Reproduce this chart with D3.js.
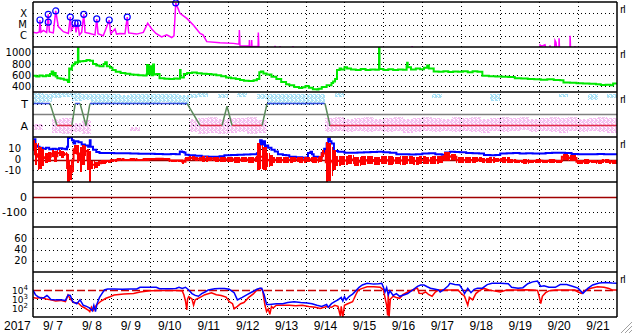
<!DOCTYPE html>
<html>
<head>
<meta charset="utf-8">
<script src="https://cdn.jsdelivr.net/npm/d3@7"></script>
<style>
  html, body { margin: 0; padding: 0; background: #fff; }
  svg { display: block; }
</style>
</head>
<body>
<svg id="chart" width="633" height="334"></svg>
<script>
// hours since 2017-09-07 00:00 UT
const dayLabels = ["9/ 7", "9/ 8", "9/ 9", "9/10", "9/11", "9/12", "9/13", "9/14", "9/15", "9/16", "9/17", "9/18", "9/19", "9/20", "9/21"];
const yearLabel = "2017";

// GOES X-ray flux (W/m2)
const xray = [[0,2.0e-6],[2.3,1.8e-6],[3.9,2.2e-6],[4.3,2.5e-5],[4.9,2.0e-6],[6.4,3.0e-6],[8.4,2.0e-6],[9.4,8.1e-5],[10.1,2.2e-6],[12.5,1.8e-6],[14.0,1.6e-4],[15.6,6.5e-6],[18.7,2.3e-6],[21.8,1.6e-6],[23.0,4.6e-5],[23.6,3.0e-6],[24.9,6.0e-6],[25.9,1.3e-5],[26.5,2.0e-6],[27.6,1.3e-5],[28.6,1.2e-6],[30.0,2.0e-6],[31.3,8.1e-5],[32.1,2.0e-6],[35.1,1.6e-6],[38.2,1.2e-6],[39.3,3.1e-5],[40.1,1.5e-6],[43.3,1.0e-6],[47.0,2.5e-5],[47.9,1.5e-6],[50.6,4.0e-6],[51.5,1.4e-6],[53.6,1.6e-6],[56.7,1.5e-6],[58.1,4.6e-5],[59.0,1.8e-6],[63.9,1.4e-6],[68.0,2.0e-6],[70.7,1.3e-5],[73.2,4.0e-6],[75.8,1.6e-6],[79.3,8.0e-7],[82.4,1.2e-6],[85.5,7.0e-7],[86.9,1.0e-6],[88.0,8.2e-4],[90.6,1.0e-4],[94.8,3.5e-5],[98.8,9.0e-6],[103.0,1.6e-6],[104.8,1.2e-6],[107.1,3.0e-7],[115.3,2.4e-7],[123.5,2.1e-7],[127.0,1.8e-7],[127.2,3.2e-6],[127.6,1.3e-7],[133.3,1.2e-7],[133.4,4.2e-7],[133.6,1.1e-7],[134.7,1.2e-7],[134.8,4.2e-7],[135.0,1.1e-7],[138.8,1.1e-7],[138.9,1.9e-6],[139.2,1.0e-7],[139.5,5e-8],[149.0,5e-8],[149.2,1.3e-7],[149.5,5e-8],[152.0,5e-8],[152.3,1.2e-7],[152.6,5e-8],[160.2,5e-8],[160.3,1.2e-7],[160.5,5e-8],[233.6,5e-8],[233.7,1.2e-7],[233.9,5e-8],[312.4,5e-8],[312.6,1.5e-7],[313.5,1.2e-7],[315.6,1.6e-7],[316.5,5e-8],[318.5,5e-8],[318.7,1.4e-7],[319.0,5e-8],[321.5,5e-8],[321.8,3.7e-7],[322.4,2.5e-7],[323.0,5e-8],[324.2,5e-8],[324.3,6.0e-7],[324.6,5e-8],[331.0,5e-8],[331.1,1.0e-6],[331.4,5e-8],[334.0,5e-8],[334.1,1.2e-7],[334.3,5e-8],[360,5e-8]];
// flare peaks marked with circles
const flares = [[4.3,2.5e-5],[9.4,8.1e-5],[9.4,1.6e-5],[14.0,1.6e-4],[23.0,4.6e-5],[25.9,1.3e-5],[27.6,1.3e-5],[31.3,8.1e-5],[39.3,3.1e-5],[47.0,2.5e-5],[58.1,4.6e-5],[88.0,8.2e-4]];
const xrayTicks = [[1e-4, "X"], [1e-5, "M"], [1e-6, "C"]];

// solar wind speed (km/s)
const speed = [[0,590],[2,575],[4,595],[6,580],[8,600],[9.5,585],[10.5,620],[11.5,665],[12.5,600],[13.6,640],[14,575],[15,545],[17,535],[19,520],[21,510],[21.6,480],[22.3,720],[23,700],[24,770],[25,800],[26,830],[27.4,820],[27.7,1077],[28,840],[29,845],[31,850],[33,870],[35,855],[37,800],[39,770],[41,760],[43.5,800],[44.5,830],[45.5,760],[47.5,730],[49,690],[51,660],[54,640],[57,625],[60,610],[62,605],[65,600],[68,595],[70,610],[70.3,780],[71,620],[72,760],[73,600],[74,790],[74.6,610],[76,620],[78,545],[81,535],[84,530],[87,540],[89,535],[90.6,690],[91,560],[93,620],[95,640],[98,645],[101,635],[104,625],[107,620],[110,610],[113,600],[116,580],[119,560],[122,545],[125,530],[127.6,515],[130,500],[133,495],[136,510],[138,530],[139.5,650],[140.5,665],[142,630],[144,610],[147,570],[150,530],[153,480],[156,440],[158,420],[161,390],[164,370],[166,385],[168,405],[170,375],[172.5,350],[175,345],[176,360],[178,390],[181,420],[184,460],[185,485],[186.2,530],[187.4,690],[189,720],[190,700],[192,740],[193.6,720],[196,700],[199,690],[202,710],[205,690],[208,700],[211,695],[213.1,700],[213.3,1085],[213.6,710],[216,690],[219,705],[222,690],[225,700],[228,695],[230.3,760],[230.6,820],[231,740],[233,700],[236,720],[238.6,705],[241,730],[243,770],[244,720],[247,665],[250,660],[253,670],[256,655],[259,665],[262,660],[265,670],[268,650],[271,670],[274,660],[277,590],[281,580],[285,575],[289,570],[293,565],[297,545],[301,540],[305,530],[309,525],[313,520],[317,525],[321,515],[325,510],[327,470],[331,465],[335,455],[339,450],[343,445],[347,440],[350,425],[353,430],[356,420],[357.6,450],[360,455]];
const speedTicks = [400, 600, 800, 1000];

// IMF sector: 1 = toward, -1 = away
const sector = [[0,1],[10.5,1],[14.8,-1],[24,-1],[26,1],[29,1],[32.7,-1],[35.1,1],[95,1],[103,-1],[116.5,-1],[119.6,0.75],[122.7,-1],[141.2,-1],[144.3,1],[180,1],[183.1,-1],[360,-1]];
const sectorBin = 6;
const imfToward = [[0,1.0,1.95],[6,1.1,1.9],[12,1.5,1.95],[18,1.6,1.95],[24,1.2,1.95],[30,1.3,1.9],[36,0.9,1.9],[42,1.0,1.85],[48,1.0,1.9],[54,0.9,1.8],[60,1.0,1.85],[66,0.9,1.9],[72,1.0,1.9],[78,1.1,1.85],[84,0.95,1.9],[90,0.9,1.8],[96,1.5,1.9],[102,1.6,1.95],[114,1.5,1.9],[126,1.6,1.95],[138,1.4,1.9],[144,0.9,1.9],[150,0.9,1.85],[156,1.0,1.9],[162,0.85,1.9],[168,0.9,1.85],[174,1.0,1.9],[186,1.6,1.95],[246,1.5,1.9],[282,1.2,1.9],[324,1.6,1.9],[342,1.3,1.9],[354,1.5,1.9]];
const imfAway = [[0,-0.9,-1.4],[12,-0.4,-1.7],[18,-0.3,-1.8],[24,-0.8,-1.6],[30,-0.5,-1.8],[60,-1.1,-1.5],[96,-0.4,-1.6],[102,-0.3,-1.8],[108,-0.2,-1.7],[114,-0.4,-1.8],[120,-0.3,-1.7],[126,-0.3,-1.6],[132,-0.2,-1.8],[138,-0.5,-1.7],[180,-0.3,-1.6],[186,-0.2,-1.5],[192,-0.4,-1.6],[198,-0.3,-1.5],[204,-0.2,-1.6],[210,-0.4,-1.5],[216,-0.3,-1.6],[222,-0.2,-1.5],[228,-0.4,-1.7],[234,-0.3,-1.6],[240,-0.2,-1.5],[246,-0.3,-1.6],[252,-0.4,-1.5],[258,-0.2,-1.6],[264,-0.3,-1.5],[270,-0.2,-1.6],[276,-0.4,-1.7],[282,-0.3,-1.5],[288,-0.2,-1.6],[294,-0.3,-1.5],[300,-0.2,-1.4],[306,-0.4,-1.6],[312,-0.3,-1.5],[318,-0.2,-1.6],[324,-0.3,-1.7],[330,-0.2,-1.5],[336,-0.4,-1.6],[342,-0.3,-1.5],[348,-0.2,-1.6],[354,-0.3,-1.7]];
const sectorTicks = [[1, "T"], [-1, "A"]];

// IMF Bt (nT)
const bt = [[0,14],[0.8,19],[1.5,13],[2.5,12],[4,11],[6,10],[8,11],[10,9.5],[12,10],[14,9.5],[16,10.5],[18,10],[20,9.5],[21,12],[21.6,20],[22.5,22],[23.5,21],[24,18],[25,15],[26,17],[28,16],[30,14],[32,13],[34,12],[35,18],[35.5,12],[37,9],[39,7],[41,6],[45,6],[50,5.8],[55,5.9],[60,5.5],[65,5.4],[70,5.3],[75,5.2],[80,5.0],[85,5.1],[88,5.0],[90.5,7.5],[92,7],[93,6.5],[94,4.5],[96,4],[100,3.5],[104,2.8],[108,2.6],[112,2.6],[115,3],[118,4],[122,4.2],[126,4.5],[130,4.6],[134,5],[138,5.8],[139,10],[140,18],[141,14],[142,17],[143,12],[144,13],[145,11],[147,9],[149,7.5],[151,5],[154,4.2],[156,4],[158,2.5],[162,2],[166,1.6],[168,1.8],[169.5,6],[171,7.3],[172,5],[173,2.5],[176,2.4],[178,6],[179.5,10],[181,15],[182,19.5],[183,17],[184,15],[185.5,8],[188,7.3],[192,6.4],[196,6.2],[200,6.6],[204,6.8],[208,7],[212,7.2],[216,6.8],[220,6.2],[224,5],[228,4.8],[232,4.6],[236,4.8],[240,5.5],[244,5.8],[248,5],[252,4.5],[254,6.5],[257,7.2],[260,7],[263,6.8],[267,6],[271,5.8],[275,5.6],[278,4.3],[282,4],[285,4.2],[288,5.5],[292,5.8],[296,6],[300,5.6],[304,5.8],[308,5.5],[312,5.7],[316,6],[320,6.2],[324,6.4],[328,6.1],[332,5.2],[336,5],[340,4.8],[344,5],[348,5.2],[352,4.8],[356,5],[360,5.1]];
// IMF Bz range per interval (nT): [hour, low, high]
const bz = [[0,8,18],[1.2,-5,15],[2.5,-10,15],[4,-9,12],[5.5,-6,10],[7,-3,6],[9,-2,7],[11,2,9],[13,-2,8],[15,3,9],[17,1,8],[19,3,7],[21,-21,5],[22,-21,0],[23,-19,-5],[24,-12,10],[25,5,14],[27,-3,14],[28.5,-12,12],[30,-5,14],[32,3,13],[33.5,-10,10],[34.5,-21,8],[36,-9,-1],[38,-8,-2],[40,-6,-1],[42,-4,0],[45,-3,0],[48,-2,0.5],[52,-1,1],[56,-1.5,0.5],[60,-1,1],[64,-1.5,0.5],[68,-1,1],[72,-0.5,1.5],[76,0,1.5],[80,-0.5,1.5],[84,-2,0],[88,-2,0],[92,-4,0],[94,-1,2],[96,0,3],[100,-1,2.5],[104,-2,3],[108,-1,2.5],[112,-2,2.5],[116,-2,2.5],[120,-2,2.5],[124,-3,2.5],[128,-2,2],[132,-3,2.5],[136,-2,2.5],[138,-10,15],[140,-9,14],[142,-10,12],[144.3,-7,6],[146,-6,4],[148,-3,2.5],[152,-3,2],[156,-3,2.5],[160,-2,2.5],[164,-3,2],[168,-2,2.5],[172,-3,2.5],[176,-2,3],[178,2,9],[180.5,-21,16],[182,-20,15],[183.5,-15,12],[185,-10,9],[187,-6,3],[190,-5,3],[194,-4,4],[198,-6,2],[202,-5,3],[206,-4,3],[210,-5,2],[214,-4,3],[218,-5,3],[222,-4,2],[226,-5,3],[230,-4,3],[234,-5,2],[238,-4,3],[242,-4,2],[246,-4,3],[250,-3,3],[253,-1,7],[257,0,5],[261,-3,2],[265,-3,2],[269,-3,2],[273,-2,2],[277,-3,1.5],[281,-3,2],[285,-2,1.5],[289,-3,2],[294,-3,0.5],[298,-3,0],[302,-4,0.5],[306,-3,0],[310,-3,0.5],[314,-3,0],[318,-3,0.5],[322,-3,0],[326,0,5],[330,-1,4],[335,-4,0],[339,-4,0.5],[343,-3,0],[347,-4,0],[351,-3,0.5],[355,-4,0],[360,-3,0]];
const bTicks = [10, 0, -10];

const dstTicks = [0, -100];
const kpTicks = [60, 40, 20];

// GEO electron flux, two channels
const eBlue = [[0,1e4],[1.5,3e3],[3,1.8e3],[5,1.2e3],[7,1.5e3],[8.6,2.5e3],[9.5,1.8e3],[11,9e2],[14,8e2],[17,8e2],[20,7e2],[21.6,2.8e3],[23,2.5e3],[24.5,5e2],[27,3e2],[29,8e2],[31,2e2],[33,1.5e2],[35,1e2],[36.5,5e1],[37.5,2e2],[38.5,4e1],[39.5,3e2],[41,1.5e3],[42.5,4e3],[44,1e4],[46,1.3e4],[50,1.3e4],[55,1.2e4],[60,1.3e4],[64,1.3e4],[66,2e4],[70,2e4],[76,2e4],[78,1.4e4],[84,1.4e4],[88,1.5e4],[90,2e4],[92,1.5e4],[94,2e4],[96,1e4],[98,4e3],[100,2.5e3],[102,2e3],[104,4e3],[106,6e3],[108,1e4],[112,1.4e4],[115,1.5e4],[118,1.5e4],[121,1.2e4],[124,5e3],[126,8e2],[129,1.5e3],[132,3e3],[135,6e3],[138,1.2e4],[140,1.6e4],[141,1.6e4],[142.5,3e3],[144,2.5e2],[146,2.5e2],[150,3e2],[154,3e2],[157,4e2],[161,5e2],[165,4e2],[169,3.5e2],[172,3e2],[175,2e2],[178,1.5e2],[181,2.5e2],[182,1.2e2],[184,3e2],[186,5e2],[188,8e2],[190,1.5e3],[191,6e2],[192,1.8e3],[193,8e2],[195,2e3],[197,3.5e3],[199,8e3],[201,2e4],[203,3.6e4],[206,5.5e4],[210,4.5e4],[213,5e4],[215,5.5e4],[216,2e4],[217,6e3],[218,1.8e4],[219,3e3],[220,8e3],[222,2.5e3],[224,4e3],[226,2e3],[229,3e3],[231,4e3],[234,1e4],[237,2.5e4],[239,3.6e4],[241,3.6e4],[243,2.3e4],[245,1.6e4],[248,1.2e4],[250,1e4],[251,6e3],[253,1e4],[256,3e4],[257,5.5e4],[260,4e4],[263,3.6e4],[265,1e4],[266,4e3],[268,1.5e4],[270,5e3],[272,1.2e4],[274,1.6e4],[277,1.6e4],[280,4e4],[283,5.5e4],[288,5.5e4],[293,5e4],[295,2e4],[299,1.6e4],[302,1.8e4],[305,5e4],[308,8e4],[311,1e5],[313,2.5e4],[315,3e4],[318,2e4],[322,2e4],[325,4e4],[329,4e4],[333,2.5e4],[336,1.6e4],[339,4.3e3],[342,1.5e4],[345,3.6e4],[349,6e4],[353,7e4],[357,6e4],[360,5.5e4]];
const eRed = [[0,1.5e3],[2,1.2e3],[5,1.5e3],[8,1e3],[11,8e2],[14,6e2],[17,7e2],[20,5e2],[21.6,2.8e3],[23,1e3],[25,4e2],[28,3.5e2],[30,1.5e2],[32,1e2],[34,6e1],[35,4e1],[36,1.2e2],[37,5e1],[39,2e2],[42,6e2],[45,1.2e3],[47.5,1.8e3],[50,2.8e3],[56,3.5e3],[62,4e3],[66,6e3],[72,8e3],[80,9e3],[88,9e3],[92,8e3],[93,3e3],[94,6e2],[94.8,6e1],[95.3,1e3],[96,1.8e3],[98,1e3],[99,2e2],[100,8e2],[103,1.5e3],[106,3e3],[110,5e3],[113,3e3],[116,2.5e3],[119,1.6e3],[121,5e2],[123,3e2],[124,8e1],[126,1.5e2],[128,3e2],[130,4e2],[133,1.5e3],[136,4e3],[138,1e4],[140,1.5e4],[141.5,1e4],[143,2e2],[144,4e1],[145,8e1],[146,2e1],[147,1.5e2],[148,1e2],[150,2e2],[154,2e2],[158,2e2],[162,1.8e2],[166,2e2],[170,1.5e2],[174,1.2e2],[177,9e1],[181,1.5e2],[184,1.2e2],[186,2e2],[188,1.5e2],[189.5,1.2e1],[190,1.5e2],[191,1e1],[192,2e2],[194,3e2],[197,5e2],[199,3e3],[200.5,1e4],[203,1.5e4],[206,2.3e4],[210,2.3e4],[214,2e4],[216,1e4],[218,2e2],[218.6,1.5e1],[219,5e3],[219.5,1e1],[220.3,1e3],[222,2e3],[224,1.5e3],[226,1.2e3],[228,3e3],[231,6e3],[234,1e4],[237,1.6e4],[238,4.3e3],[240,4e3],[242,6e3],[244,3e3],[246,2e3],[248,6e3],[250,1e4],[254,1e4],[258,1e4],[262,1e4],[264,4e3],[266,2e3],[268,2e2],[269,1.5e3],[271,8e2],[273,4e3],[275,8e3],[278,1.5e4],[281,1e4],[284,8e3],[288,6e3],[292,1e4],[296,1e4],[300,1e4],[304,1.1e4],[308,1e4],[311,9e3],[312,2e3],[313,3e2],[314,2e3],[316,5e3],[318,8e3],[322,1e4],[326,1e4],[330,1e4],[334,1e4],[336,6e3],[338,4.3e3],[341,1e4],[344,1.6e4],[348,2.3e4],[352,2e4],[355,1.5e4],[357,1e4],[360,1e4]];
const eTickExps = [4, 3, 2];
const eAlert = 1e4;

// layout
const x0 = 33, x1 = 617;
const panelTop = [2, 47, 92, 137, 182, 227, 272];
const panelH = 45;
const bottom = panelTop[6] + panelH;
const t0 = Date.UTC(2017, 8, 7);

const svg = d3.select("#chart");
const defs = svg.append("defs");

const x = d3.scaleUtc()
    .domain([new Date(t0), new Date(t0 + 15 * 864e5)])
    .range([x0, x1]);
const tx = h => x(new Date(t0 + h * 36e5));

const yXray = d3.scaleLog().domain([1e-7, 1e-3]).range([47, 2]);
const ySpeed = d3.scaleLinear().domain([300, 1100]).range([92, 47]);
const ySector = d3.scaleLinear().domain([-2.05, 2.05]).range([137, 92]);
const yB = d3.scaleLinear().domain([-21, 21]).range([182, 137]);
const yDst = d3.scaleLinear().domain([-200, 100]).range([227, 182]);
const yKp = d3.scaleLinear().domain([0, 80]).range([272, 227]);
const yE = d3.scaleLog().domain([10, 1e6]).range([317, 272]);

panelTop.forEach((top, i) => {
    defs.append("clipPath").attr("id", "clip" + i)
        .append("rect")
        .attr("x", x0).attr("y", top)
        .attr("width", x1 - x0).attr("height", panelH);
});

// speckle fills for the IMF angle scatter
function speckle(id, color, grey) {
    const p = defs.append("pattern").attr("id", id)
        .attr("width", 4).attr("height", 4)
        .attr("patternUnits", "userSpaceOnUse");
    [[0,0],[1,0],[3,0],[0,1],[2,1],[1,2],[2,2],[3,2],[0,3],[3,3]].forEach(([a, b]) => {
        p.append("rect").attr("x", a).attr("y", b).attr("width", 1).attr("height", 1).attr("fill", color);
    });
    p.append("rect").attr("x", 3).attr("y", 1).attr("width", 1).attr("height", 1).attr("fill", grey);
}
speckle("speckBlue", "#a6e2f8", "#d8d8d8");
speckle("speckPink", "#f6bcf2", "#e2e2e2");

// uneven vertical hatch so the Bz range reads as dense spikes
const hatch = defs.append("pattern").attr("id", "bzHatch")
    .attr("width", 7).attr("height", 4).attr("patternUnits", "userSpaceOnUse");
[[0, 2], [3, 3], [6, 1]].forEach(([a, w]) => {
    hatch.append("rect").attr("x", a).attr("y", 0).attr("width", w).attr("height", 4).attr("fill", "#ff0000");
});

const gScatter = svg.append("g").attr("clip-path", "url(#clip2)").attr("shape-rendering", "crispEdges");
gScatter.selectAll(".tw").data(imfToward).join("rect")
    .attr("x", d => tx(d[0])).attr("width", d => tx(d[0] + sectorBin) - tx(d[0]))
    .attr("y", d => ySector(d[2])).attr("height", d => ySector(d[1]) - ySector(d[2]))
    .attr("fill", "url(#speckBlue)");
gScatter.selectAll(".aw").data(imfAway).join("rect")
    .attr("x", d => tx(d[0])).attr("width", d => tx(d[0] + sectorBin) - tx(d[0]))
    .attr("y", d => ySector(d[1])).attr("height", d => ySector(d[2]) - ySector(d[1]))
    .attr("fill", "url(#speckPink)");

// dotted grid
const grid = svg.append("g").attr("stroke", "#000").attr("stroke-width", 1)
    .attr("stroke-dasharray", "1,3").attr("shape-rendering", "crispEdges");
function hGrid(scale, values) {
    grid.append("g").selectAll("line").data(values).join("line")
        .attr("x1", x0).attr("x2", x1)
        .attr("y1", d => Math.round(scale(d)) + 0.5)
        .attr("y2", d => Math.round(scale(d)) + 0.5);
}
hGrid(yXray, xrayTicks.map(d => d[0]));
hGrid(ySpeed, speedTicks);
hGrid(ySector, sectorTicks.map(d => d[0]));
hGrid(yB, [10, -10]);
hGrid(yDst, [-100]);
hGrid(yKp, kpTicks);
hGrid(yE, [1e5, 1e3, 1e2]);
grid.append("g").selectAll("line").data(d3.range(1, 15)).join("line")
    .attr("x1", d => Math.round(tx(d * 24)) + 0.5)
    .attr("x2", d => Math.round(tx(d * 24)) + 0.5)
    .attr("y1", panelTop[0]).attr("y2", bottom);

// reference lines
svg.append("line").attr("x1", x0).attr("x2", x1)
    .attr("y1", ySector(0)).attr("y2", ySector(0))
    .attr("stroke", "#808080").attr("stroke-width", 1.5);
[[yB, 0], [yDst, 0]].forEach(([s, v]) => {
    svg.append("line").attr("x1", x0).attr("x2", x1)
        .attr("y1", Math.round(s(v)) + 0.5).attr("y2", Math.round(s(v)) + 0.5)
        .attr("stroke", "#a00000").attr("stroke-width", 1.5);
});
svg.append("line").attr("x1", x0).attr("x2", x1)
    .attr("y1", Math.round(yE(eAlert)) + 0.5).attr("y2", Math.round(yE(eAlert)) + 0.5)
    .attr("stroke", "#c80000").attr("stroke-width", 1.5)
    .attr("stroke-dasharray", "8,3");

// panel 1: X-ray
const g1 = svg.append("g").attr("clip-path", "url(#clip0)");
g1.append("path").datum(xray)
    .attr("d", d3.line().x(d => tx(d[0])).y(d => yXray(d[1])))
    .attr("fill", "none").attr("stroke", "#ff00ff").attr("stroke-width", 1.5);
svg.append("g").selectAll("circle").data(flares).join("circle")
    .attr("cx", d => tx(d[0])).attr("cy", d => yXray(d[1])).attr("r", 3)
    .attr("fill", "none").attr("stroke", "#0000ff").attr("stroke-width", 1.2);

// panel 2: speed
svg.append("g").attr("clip-path", "url(#clip1)")
    .append("path").datum(speed)
    .attr("d", d3.line().x(d => tx(d[0])).y(d => ySpeed(d[1])).curve(d3.curveStepAfter))
    .attr("fill", "none").attr("stroke", "#00e800").attr("stroke-width", 2);

// panel 3: sector line
const g3 = svg.append("g").attr("clip-path", "url(#clip2)");
g3.selectAll("line").data(d3.pairs(sector)).join("line")
    .attr("x1", d => tx(d[0][0])).attr("y1", d => ySector(d[0][1]))
    .attr("x2", d => tx(d[1][0])).attr("y2", d => ySector(d[1][1]))
    .attr("stroke", d => d[0][1] === 1 && d[1][1] === 1 ? "#3a4fe0"
        : d[0][1] === -1 && d[1][1] === -1 ? "#e03048" : "#5a8a5a")
    .attr("stroke-width", 1.5);

// panel 4: Bt and Bz
const g4 = svg.append("g").attr("clip-path", "url(#clip3)");
g4.append("path").datum(bt)
    .attr("d", d3.line().x(d => tx(d[0])).y(d => yB(d[1])).curve(d3.curveStepAfter))
    .attr("fill", "none").attr("stroke", "#0000ff").attr("stroke-width", 2);
g4.append("path").datum(bz)
    .attr("d", d3.area().x(d => tx(d[0])).y0(d => yB(d[1])).y1(d => yB(d[2])).curve(d3.curveStepAfter))
    .attr("fill", "url(#bzHatch)").attr("shape-rendering", "crispEdges");
g4.append("path").datum(bz)
    .attr("d", d3.line().x(d => tx(d[0])).y(d => yB((d[1] + d[2]) / 2)).curve(d3.curveStepAfter))
    .attr("fill", "none").attr("stroke", "#ff0000").attr("stroke-width", 2);

// panel 7: electrons
const g7 = svg.append("g").attr("clip-path", "url(#clip6)");
[[eRed, "#ff0000"], [eBlue, "#0000ff"]].forEach(([data, color]) => {
    g7.append("path").datum(data)
        .attr("d", d3.line().x(d => tx(d[0])).y(d => yE(d[1])))
        .attr("fill", "none").attr("stroke", color).attr("stroke-width", 1.5);
});

// frame
const frame = svg.append("g").attr("stroke", "#000").attr("stroke-width", 1.5);
frame.selectAll("line.h").data(panelTop.concat([bottom])).join("line")
    .attr("x1", x0).attr("x2", x1).attr("y1", d => d).attr("y2", d => d);
frame.append("line").attr("x1", x0).attr("x2", x0).attr("y1", panelTop[0]).attr("y2", bottom);
frame.append("line").attr("x1", x1).attr("x2", x1).attr("y1", panelTop[0]).attr("y2", bottom);

// y labels
function yLabels(scale, values, fmt, pad, size) {
    svg.append("g").attr("transform", `translate(${x0},0)`)
        .call(d3.axisLeft(scale).tickValues(values).tickFormat(fmt).tickSize(0).tickPadding(pad))
        .attr("font-family", "DejaVu Sans, sans-serif").attr("font-size", size)
        .call(g => g.select(".domain").remove());
}
const xrayName = new Map(xrayTicks);
const sectorName = new Map(sectorTicks);
yLabels(yXray, xrayTicks.map(d => d[0]), d => xrayName.get(d), 6, 10);
yLabels(ySpeed, speedTicks, d => d, 2, 10);
yLabels(ySector, sectorTicks.map(d => d[0]), d => sectorName.get(d), 5, 11);
yLabels(yB, bTicks, d => d, 12, 10);
yLabels(yDst, dstTicks, d => d, 6, 11);
yLabels(yKp, kpTicks, d => d, 6, 10);

svg.append("g").selectAll("text").data(eTickExps).join("text")
    .attr("x", 28).attr("y", d => yE(Math.pow(10, d)) + 4)
    .attr("text-anchor", "end")
    .attr("font-family", "DejaVu Sans, sans-serif").attr("font-size", 9)
    .each(function (d) {
        const t = d3.select(this);
        t.append("tspan").text("10");
        t.append("tspan").attr("dy", -4).attr("font-size", 7).text(d);
    });

// date axis
svg.append("g").attr("transform", `translate(0,${bottom})`)
    .call(d3.axisBottom(x)
        .tickValues(dayLabels.map((_, i) => new Date(t0 + (i + 0.5) * 864e5)))
        .tickFormat((_, i) => dayLabels[i])
        .tickSize(0).tickPadding(4))
    .attr("font-family", "Liberation Sans Narrow, Liberation Sans, sans-serif").attr("font-size", 12)
    .call(g => g.select(".domain").remove())
    .selectAll("text").style("white-space", "pre");
svg.append("text").attr("x", 4).attr("y", 330)
    .attr("font-family", "Liberation Sans, sans-serif").attr("font-size", 12)
    .text(yearLabel);

// small marks on the right
svg.append("g").selectAll("text").data([0, 1, 2, 3, 6]).join("text")
    .attr("x", 620).attr("y", d => panelTop[d] + 11)
    .attr("font-family", "DejaVu Sans, sans-serif").attr("font-size", 10)
    .attr("letter-spacing", -1)
    .text("rl");

// resize grip
svg.append("g").attr("stroke", "#a0a0a0").attr("stroke-width", 1)
    .selectAll("line").data([0, 4, 8]).join("line")
    .attr("x1", d => 621 + d).attr("y1", 333)
    .attr("x2", 632).attr("y2", d => 322 + d);
</script>
</body>
</html>
